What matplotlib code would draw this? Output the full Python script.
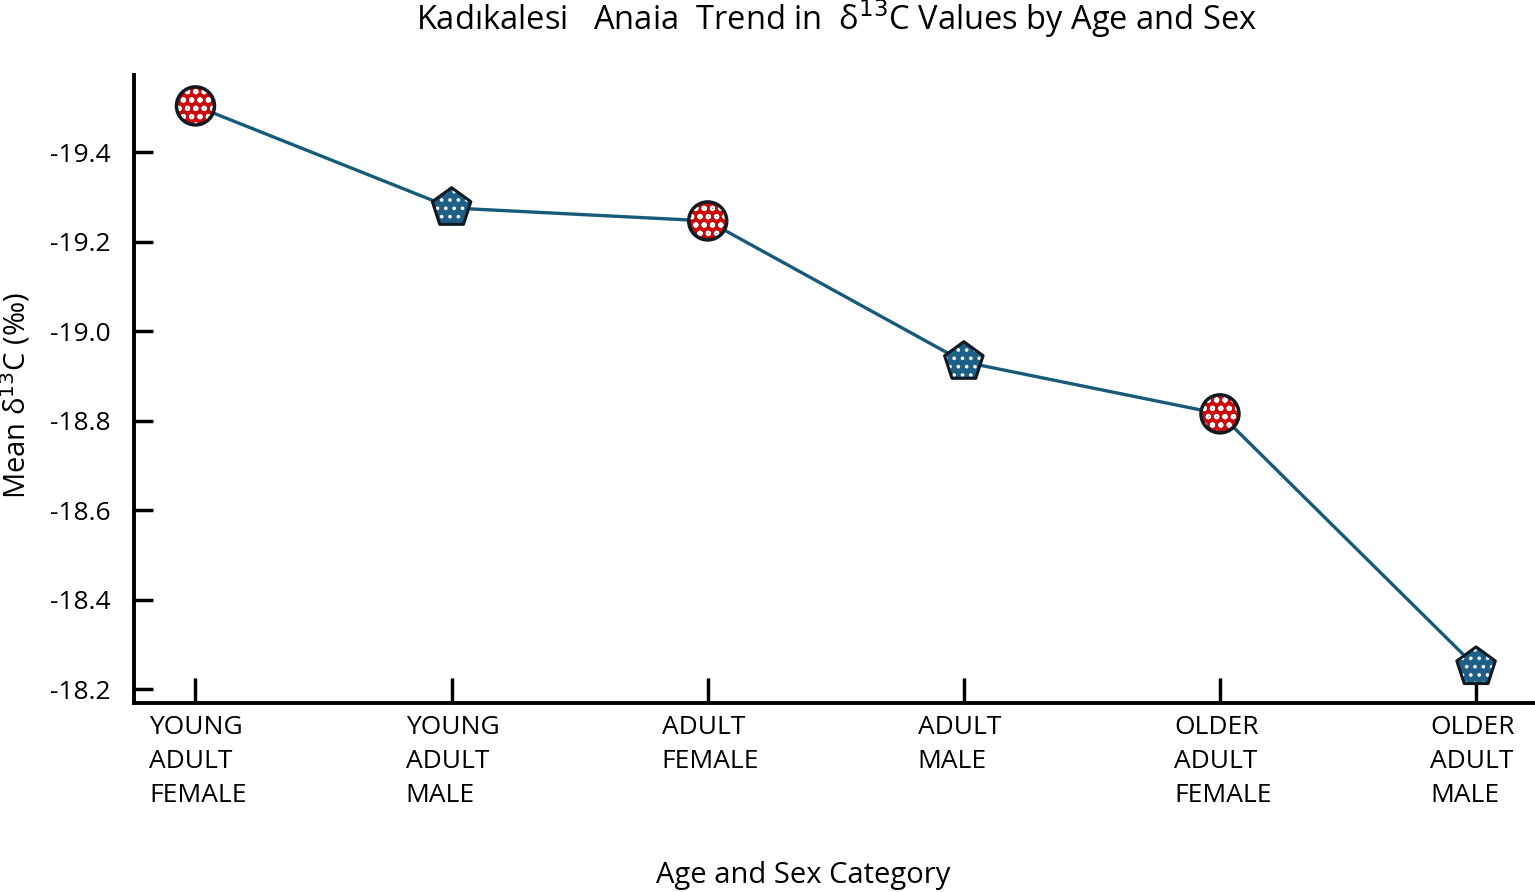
import matplotlib.pyplot as plt
import matplotlib.transforms as mtransforms

# data
categories = ["YOUNG\nADULT\nFEMALE", "YOUNG\nADULT\nMALE", "ADULT\nFEMALE",
              "ADULT\nMALE", "OLDER\nADULT\nFEMALE", "OLDER\nADULT\nMALE"]
sex = ["F", "M", "F", "M", "F", "M"]
mean_d13c = [-19.503, -19.275, -19.246, -18.931, -18.815, -18.249]
y_ticks = [-19.4, -19.2, -19.0, -18.8, -18.6, -18.4, -18.2]

plt.rcParams['font.family'] = ['Open Sans', 'DejaVu Sans']
plt.rcParams['hatch.linewidth'] = 1.4

line_col = "#175a7c"
edge_col = "#111a22"

fig = plt.figure(figsize=(15.35, 8.92), dpi=100)
ax = fig.add_axes([0.0873, 0.2119, 0.9127, 0.704])

x = list(range(len(categories)))
ax.plot(x, mean_d13c, color=line_col, lw=2.4, zorder=2)

fx = [i for i in x if sex[i] == "F"]
fy = [mean_d13c[i] for i in fx]
mx = [i for i in x if sex[i] == "M"]
my = [mean_d13c[i] for i in mx]

# female: red circles with white pattern
ax.scatter(fx, fy, s=750, marker='o', facecolor="#cc0a0a", edgecolor='none', zorder=3)
ax.scatter(fx, fy, s=750, marker='o', facecolor='none', edgecolor='white',
           linewidths=0, hatch='oo', zorder=4)
ax.scatter(fx, fy, s=750, marker='o', facecolor='none', edgecolor=edge_col,
           linewidths=2.5, zorder=5)

# male: blue pentagons with white dots
ax.scatter(mx, my, s=850, marker='p', facecolor="#1d5f86", edgecolor='none', zorder=3)
ax.scatter(mx, my, s=850, marker='p', facecolor='none', edgecolor='white',
           linewidths=0, hatch='..', zorder=4)
ax.scatter(mx, my, s=850, marker='p', facecolor='none', edgecolor=edge_col,
           linewidths=2.2, zorder=5)

ax.set_xlim(-0.24, 5.23)
ax.set_ylim(-18.169, -19.572)
ax.set_yticks(y_ticks)
ax.set_yticklabels([f"{v:.1f}" for v in y_ticks])
ax.set_xticks(x)
ax.set_xticklabels([])

# category labels, left aligned a little left of each tick
offset = mtransforms.ScaledTranslation(-46 / 100, -12 / 100, fig.dpi_scale_trans)
trans = mtransforms.blended_transform_factory(ax.transData, ax.transAxes) + offset
for xi, lab in zip(x, categories):
    ax.text(xi, 0, lab, transform=trans, ha='left', va='top',
            fontsize=19, linespacing=1.48)

for s in ['top', 'right']:
    ax.spines[s].set_visible(False)
for s in ['left', 'bottom']:
    ax.spines[s].set_linewidth(2.8)
ax.tick_params(axis='x', direction='in', length=18, width=2.5)
ax.tick_params(axis='y', direction='in', length=14, width=2.5, pad=17, labelsize=19)

fig.text(0.523, 0.019, "Age and Sex Category", ha='center', va='center', fontsize=21)
fig.text(0.010, 0.557, "Mean δ$^{13}$C (‰)", ha='center', va='center',
         rotation=90, fontsize=21)
fig.text(0.545, 0.979, "Kadıkalesi   Anaia  Trend in  δ$^{13}$C Values by Age and Sex",
         ha='center', va='center', fontsize=23.5)

fig.savefig("out.png", dpi=100)
